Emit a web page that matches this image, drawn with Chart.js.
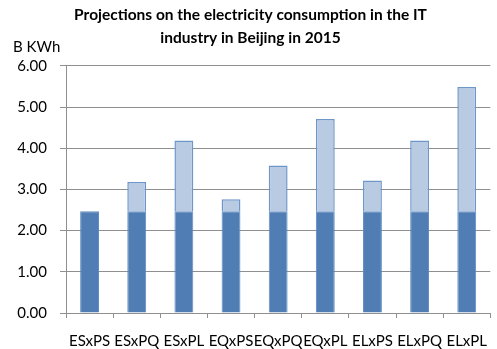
<!DOCTYPE html>
<html>
<head>
<meta charset="utf-8">
<script src="https://cdn.jsdelivr.net/npm/chart.js@4/dist/chart.umd.min.js"></script>
<style>
  html, body { margin: 0; padding: 0; background: #fff; overflow: hidden; }
  #wrap { width: 497px; height: 349px; position: relative; overflow: hidden; }
  canvas { display: block; }
</style>
</head>
<body>
<div id="wrap"><canvas id="c" width="501" height="349"></canvas></div>
<script>
// Scenario labels and consumption (billion kWh)
const categories = ['ESxPS', 'ESxPQ', 'ESxPL', 'EQxPS', 'EQxPQ', 'EQxPL', 'ELxPS', 'ELxPQ', 'ELxPL'];
const baseValues = [2.47, 2.47, 2.47, 2.47, 2.47, 2.47, 2.47, 2.47, 2.47];
const addedValues = [0, 0.71, 1.72, 0.29, 1.11, 2.24, 0.75, 1.72, 3.02];
const yTicks = [0, 1, 2, 3, 4, 5, 6];
const titleLines = ['Projections on the electricity consumption in the IT', 'industry in Beijing in 2015'];
const unitLabel = 'B KWh';

const FONT = "Lato, 'Open Sans', sans-serif";
const GRID = '#8f8f8f';

const unitPlugin = {
  id: 'unitLabel',
  afterDraw(chart) {
    const ctx = chart.ctx;
    ctx.save();
    ctx.font = '15px ' + FONT;
    ctx.fillStyle = '#000';
    ctx.textBaseline = 'middle';
    ctx.textAlign = 'left';
    ctx.fillText(unitLabel, 13, 47);
    ctx.restore();
  }
};

new Chart(document.getElementById('c'), {
  type: 'bar',
  data: {
    labels: categories,
    datasets: [
      {
        data: baseValues,
        backgroundColor: '#4f7db4',
        borderColor: '#5f8cc2',
        borderWidth: 1,
        barPercentage: 0.4,
        categoryPercentage: 1
      },
      {
        data: addedValues,
        backgroundColor: '#b8cbe3',
        borderColor: '#6e96c9',
        borderWidth: 1.5,
        barPercentage: 0.4,
        categoryPercentage: 1
      }
    ]
  },
  options: {
    responsive: false,
    animation: false,
    devicePixelRatio: 1,
    layout: { padding: { left: 0, right: 0, top: 0, bottom: 0 } },
    plugins: {
      legend: { display: false },
      tooltip: { enabled: false },
      title: {
        display: true,
        text: titleLines,
        color: '#000',
        font: { family: FONT, size: 15.5, weight: 'bold', lineHeight: 1.45 },
        padding: { top: 4, bottom: 17 },
        align: 'center'
      }
    },
    scales: {
      x: {
        stacked: true,
        grid: {
          display: true,
          offset: true,
          drawOnChartArea: false,
          drawTicks: true,
          tickLength: 5,
          color: GRID
        },
        border: { display: true, color: GRID, width: 1 },
        ticks: {
          color: '#000',
          font: { family: FONT, size: 15 },
          padding: 14,
          maxRotation: 0,
          autoSkip: false
        },
        afterFit(s) { s.height = 36; }
      },
      y: {
        stacked: true,
        min: 0,
        max: 6,
        grid: {
          color: GRID,
          tickLength: 6,
          drawTicks: true
        },
        border: { display: true, color: GRID, width: 1 },
        afterBuildTicks(s) { s.ticks = yTicks.map(v => ({ value: v })); },
        ticks: {
          color: '#000',
          font: { family: FONT, size: 15 },
          padding: 13,
          callback: v => Number(v).toFixed(2)
        },
        afterFit(s) { s.width = 66; }
      }
    }
  },
  plugins: [unitPlugin]
});
</script>
</body>
</html>
